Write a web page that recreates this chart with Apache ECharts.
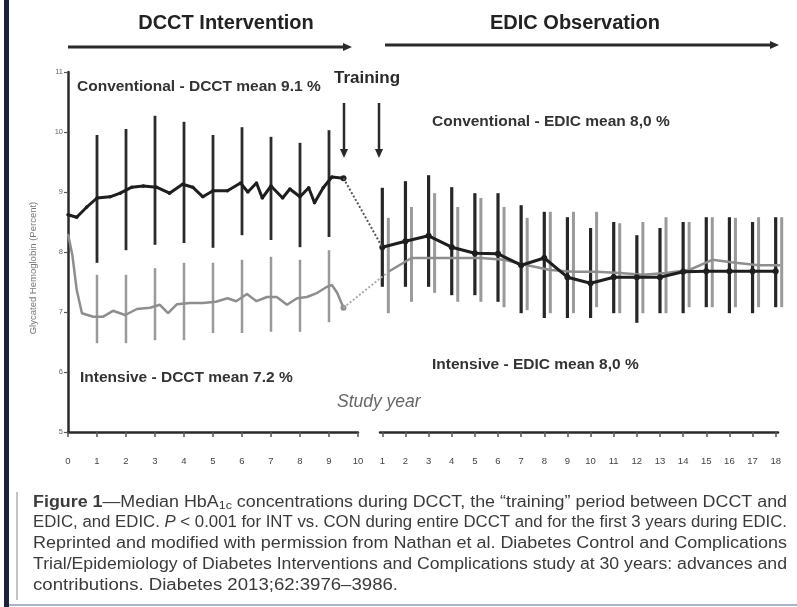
<!DOCTYPE html>
<html>
<head>
<meta charset="utf-8">
<script src="https://cdn.jsdelivr.net/npm/echarts@6/dist/echarts.min.js"></script>
<style>
  html, body { margin: 0; padding: 0; background: #fff; }
  #chart { width: 797px; height: 607px; }
</style>
</head>
<body>
<div id="chart"></div>
<script>
// ---- DCCT phase: median HbA1c (%) by study year ----
const dcctConvYears  = [0, 0.3, 0.65, 1.0, 1.45, 1.8, 2.2, 2.6, 3.05, 3.5, 3.95, 4.3, 4.65, 5.0, 5.5, 5.95, 6.2, 6.5, 6.7, 7.0, 7.4, 7.65, 8.0, 8.3, 8.5, 8.8, 9.1, 9.5];
const dcctConvMedian = [8.62, 8.58, 8.75, 8.9, 8.92, 8.98, 9.08, 9.1, 9.08, 8.98, 9.13, 9.08, 8.92, 9.02, 9.02, 9.15, 9.0, 9.15, 8.9, 9.1, 8.9, 9.05, 8.92, 9.07, 8.82, 9.07, 9.25, 9.23];

const dcctIntYears  = [0, 0.15, 0.3, 0.48, 0.87, 1.2, 1.55, 1.97, 2.38, 2.83, 3.17, 3.45, 3.76, 4.2, 4.65, 5.1, 5.5, 5.8, 6.17, 6.5, 6.86, 7.2, 7.55, 7.9, 8.24, 8.6, 8.93, 9.1, 9.28, 9.5];
const dcctIntMedian = [8.3, 7.95, 7.37, 6.98, 6.92, 6.92, 7.02, 6.95, 7.05, 7.07, 7.12, 6.98, 7.13, 7.15, 7.15, 7.17, 7.23, 7.18, 7.3, 7.18, 7.25, 7.25, 7.12, 7.23, 7.25, 7.32, 7.42, 7.45, 7.32, 7.07];

// yearly spread bars during DCCT
const dcctBarYears = [1, 2, 3, 4, 5, 6, 7, 8, 9];
const dcctConvHigh = [9.95, 10.05, 10.27, 10.17, 9.95, 10.08, 9.92, 9.82, 10.03];
const dcctConvLow  = [7.82, 8.03, 8.12, 8.15, 8.07, 8.28, 8.2, 8.08, 8.25];
const dcctIntHigh  = [7.62, 7.62, 7.73, 7.82, 7.82, 7.87, 7.92, 7.87, 8.03];
const dcctIntLow   = [6.48, 6.48, 6.53, 6.53, 6.65, 6.65, 6.67, 6.67, 6.83];

// ---- EDIC phase: median HbA1c (%) by study year ----
const edicYears      = [1, 2, 3, 4, 5, 6, 7, 8, 9, 10, 11, 12, 13, 14, 15, 16, 17, 18];
const edicConvMedian = [8.08, 8.18, 8.27, 8.08, 7.98, 7.97, 7.78, 7.9, 7.58, 7.48, 7.58, 7.58, 7.58, 7.67, 7.68, 7.68, 7.68, 7.68];
const edicConvHigh   = [9.07, 9.18, 9.28, 9.08, 8.98, 8.98, 8.78, 8.67, 8.58, 8.4, 8.5, 8.28, 8.4, 8.5, 8.58, 8.58, 8.5, 8.58];
const edicConvLow    = [7.42, 7.42, 7.42, 7.28, 7.28, 7.17, 6.98, 6.9, 6.9, 6.9, 6.98, 6.82, 6.98, 6.98, 7.08, 6.98, 6.98, 7.08];
const edicIntMedian  = [7.67, 7.9, 7.9, 7.9, 7.9, 7.87, 7.78, 7.7, 7.67, 7.67, 7.65, 7.62, 7.65, 7.7, 7.87, 7.82, 7.78, 7.78];
const edicIntHigh    = [8.57, 8.75, 8.98, 8.75, 8.9, 8.75, 8.57, 8.67, 8.67, 8.67, 8.48, 8.5, 8.58, 8.5, 8.58, 8.57, 8.58, 8.58];
const edicIntLow     = [6.98, 7.17, 7.32, 7.17, 7.17, 7.08, 7.03, 6.98, 6.98, 7.08, 6.98, 6.98, 6.98, 7.08, 7.08, 7.08, 7.08, 7.08];

// ---- axis ticks ----
const dcctTicks = [0, 1, 2, 3, 4, 5, 6, 7, 8, 9, 10];
const yTicks = [5, 6, 7, 8, 9, 10, 11];

// ---- caption ----
const captionLines = [
  '{b|Figure 1}—Median HbA{sub|1c} concentrations during DCCT, the “training” period between DCCT and',
  'EDIC, and EDIC. {i|P} < 0.001 for INT vs. CON during entire DCCT and for the first 3 years during EDIC.',
  'Reprinted and modified with permission from Nathan et al. Diabetes Control and Complications',
  'Trial/Epidemiology of Diabetes Interventions and Complications study at 30 years: advances and',
  'contributions. Diabetes 2013;62:3976–3986.'
];

const FONT = '"Liberation Sans", Arial, sans-serif';
const DARK = '#1e1e1e';
const GREY = '#8e8e8e';
const INT_SHIFT = 0.26; // intensive group drawn slightly to the right in EDIC

const zip = (xs, ys) => xs.map((x, i) => [x, ys[i]]);
const zip3 = (xs, lo, hi) => xs.map((x, i) => [x, lo[i], hi[i]]);

function rangeBar(color, width) {
  return function (params, api) {
    const x = api.value(0);
    const lo = api.coord([x, api.value(1)]);
    const hi = api.coord([x, api.value(2)]);
    return {
      type: 'line',
      shape: { x1: lo[0], y1: lo[1], x2: hi[0], y2: hi[1] },
      style: { stroke: color, lineWidth: width }
    };
  };
}

const axisLineStyle = { color: '#2a2a2a', width: 2.5 };

const chart = echarts.init(document.getElementById('chart'));

// caption lines are fitted to a justified width
const measureCtx = document.createElement('canvas').getContext('2d');
function lineWidth(line, size) {
  let w = 0;
  const re = /\{(\w+)\|([^}]*)\}|([^{]+)/g;
  let m;
  while ((m = re.exec(line))) {
    if (m[3] !== undefined) {
      measureCtx.font = size + 'px ' + FONT; w += measureCtx.measureText(m[3]).width;
    } else if (m[1] === 'b') {
      measureCtx.font = 'bold ' + size + 'px ' + FONT; w += measureCtx.measureText(m[2]).width;
    } else if (m[1] === 'i') {
      measureCtx.font = 'italic ' + size + 'px ' + FONT; w += measureCtx.measureText(m[2]).width;
    } else {
      measureCtx.font = (size * 0.7) + 'px ' + FONT; w += measureCtx.measureText(m[2]).width;
    }
  }
  return w;
}
const CAP_SIZE = 16;
const capLeft = 33;
const capTargets = [754, 754, 754, 754, 365];
const capTop = [503, 523, 544, 565, 586];
const captionGraphics = captionLines.map((line, i) => ({
  type: 'text',
  x: capLeft,
  y: capTop[i],
  scaleX: capTargets[i] / lineWidth(line, CAP_SIZE),
  style: {
    text: line,
    font: CAP_SIZE + 'px ' + FONT,
    fill: '#3a3a3a',
    verticalAlign: 'middle',
    rich: {
      b: { fontWeight: 'bold', fontSize: CAP_SIZE, fontFamily: FONT, fill: '#3a3a3a' },
      i: { fontStyle: 'italic', fontSize: CAP_SIZE, fontFamily: FONT, fill: '#3a3a3a' },
      sub: { fontSize: CAP_SIZE * 0.7, fontFamily: FONT, fill: '#3a3a3a', padding: [6, 0, 0, 0] }
    }
  }
}));

function arrow(x1, y1, x2, y2, color, width, head) {
  const ang = Math.atan2(y2 - y1, x2 - x1);
  const bx = x2 - head * Math.cos(ang), by = y2 - head * Math.sin(ang);
  const px = -Math.sin(ang) * head * 0.45, py = Math.cos(ang) * head * 0.45;
  return [
    { type: 'line', shape: { x1, y1, x2: bx, y2: by }, style: { stroke: color, lineWidth: width } },
    { type: 'polygon', shape: { points: [[x2, y2], [bx + px, by + py], [bx - px, by - py]] }, style: { fill: color } }
  ];
}

function label(text, x, y, opts) {
  return {
    type: 'text', x, y,
    style: Object.assign({
      text, font: 'bold 15.5px ' + FONT, fill: '#333',
      verticalAlign: 'middle', align: 'left'
    }, opts || {})
  };
}

const option = {
  animation: false,
  backgroundColor: '#fff',
  grid: [
    { left: 68, right: 439, top: 72, bottom: 175 },
    { left: 380, right: 19, top: 72, bottom: 175 }
  ],
  xAxis: [
    {
      gridIndex: 0, type: 'value', min: 0, max: 10, interval: 1,
      axisLine: { lineStyle: axisLineStyle },
      axisTick: { length: 5, lineStyle: { color: '#555', width: 1.5 } },
      axisLabel: { fontSize: 9.5, color: '#444', margin: 24, fontFamily: FONT,
        customValues: dcctTicks },
      splitLine: { show: false }
    },
    {
      gridIndex: 1, type: 'value', min: 0.9, max: 18.1,
      axisLine: { lineStyle: axisLineStyle },
      axisTick: { length: 5, lineStyle: { color: '#555', width: 1.5 }, customValues: edicYears },
      axisLabel: { fontSize: 9.5, color: '#444', margin: 24, fontFamily: FONT, customValues: edicYears },
      splitLine: { show: false }
    },
    {
      gridIndex: 1, type: 'value', min: 0.9 - INT_SHIFT, max: 18.1 - INT_SHIFT, show: false
    }
  ],
  yAxis: [
    {
      gridIndex: 0, type: 'value', min: 5, max: 11, interval: 1,
      axisLine: { show: true, lineStyle: axisLineStyle },
      axisTick: { show: true, length: 4, lineStyle: { color: '#555', width: 1.2 } },
      axisLabel: { fontSize: 7.5, color: '#666', margin: 5, fontFamily: FONT, customValues: yTicks },
      splitLine: { show: false }
    },
    { gridIndex: 1, type: 'value', min: 5, max: 11, show: false }
  ],
  series: [
    {
      name: 'Intensive DCCT range', type: 'custom', xAxisIndex: 0, yAxisIndex: 0,
      renderItem: rangeBar('#9a9a9a', 2.5), encode: { x: 0, y: [1, 2] },
      data: zip3(dcctBarYears, dcctIntLow, dcctIntHigh), z: 2
    },
    {
      name: 'Conventional DCCT range', type: 'custom', xAxisIndex: 0, yAxisIndex: 0,
      renderItem: rangeBar('#2b2b2b', 2.8), encode: { x: 0, y: [1, 2] },
      data: zip3(dcctBarYears, dcctConvLow, dcctConvHigh), z: 2
    },
    {
      name: 'Intensive DCCT', type: 'line', xAxisIndex: 0, yAxisIndex: 0,
      data: zip(dcctIntYears, dcctIntMedian),
      lineStyle: { color: GREY, width: 2.5 }, itemStyle: { color: GREY },
      symbol: 'circle', symbolSize: (v, p) => p.dataIndex === dcctIntYears.length - 1 ? 6 : 0,
      showSymbol: true, z: 3
    },
    {
      name: 'Conventional DCCT', type: 'line', xAxisIndex: 0, yAxisIndex: 0,
      data: zip(dcctConvYears, dcctConvMedian),
      lineStyle: { color: DARK, width: 3 }, itemStyle: { color: DARK },
      symbol: 'circle', symbolSize: (v, p) => p.dataIndex === dcctConvYears.length - 1 ? 6 : 3.5,
      z: 4
    },
    {
      name: 'Intensive EDIC range', type: 'custom', xAxisIndex: 2, yAxisIndex: 1,
      renderItem: rangeBar('#9a9a9a', 3), encode: { x: 0, y: [1, 2] },
      data: zip3(edicYears, edicIntLow, edicIntHigh), z: 2
    },
    {
      name: 'Conventional EDIC range', type: 'custom', xAxisIndex: 1, yAxisIndex: 1,
      renderItem: rangeBar('#262626', 3.2), encode: { x: 0, y: [1, 2] },
      data: zip3(edicYears, edicConvLow, edicConvHigh), z: 2
    },
    {
      name: 'Intensive EDIC', type: 'line', xAxisIndex: 2, yAxisIndex: 1,
      data: zip(edicYears, edicIntMedian),
      lineStyle: { color: GREY, width: 2.5 }, itemStyle: { color: GREY },
      symbol: 'none', z: 3
    },
    {
      name: 'Conventional EDIC', type: 'line', xAxisIndex: 1, yAxisIndex: 1,
      data: zip(edicYears, edicConvMedian),
      lineStyle: { color: DARK, width: 3 }, itemStyle: { color: DARK },
      symbol: 'circle', symbolSize: 6, z: 4
    }
  ],
  graphic: [
    // page edge and caption rule
    { type: 'rect', shape: { x: 4, y: 0, width: 5, height: 607 }, style: { fill: '#1b2238' } },
    { type: 'line', shape: { x1: 17, y1: 492, x2: 17, y2: 600 }, style: { stroke: '#b0b0b0', lineWidth: 1.5 } },
    { type: 'line', shape: { x1: 9, y1: 605, x2: 797, y2: 605 }, style: { stroke: '#a9b4c8', lineWidth: 2 } },

    // phase headers
    label('DCCT Intervention', 226, 23, { font: 'bold 20px ' + FONT, align: 'center', fill: '#222' }),
    label('EDIC Observation', 575, 23, { font: 'bold 20px ' + FONT, align: 'center', fill: '#222' }),
    ...arrow(68, 47, 352, 47, '#2a2a2a', 3, 9),
    ...arrow(385, 45, 779, 45, '#2a2a2a', 3, 9),

    // training period
    label('Training', 367, 78, { font: 'bold 17px ' + FONT, align: 'center', fill: '#2a2a2a' }),
    ...arrow(344, 103, 344, 158, '#2a2a2a', 2.5, 9),
    ...arrow(379, 103, 379, 158, '#2a2a2a', 2.5, 9),

    // group annotations
    label('Conventional - DCCT mean 9.1 %', 77, 87),
    label('Conventional - EDIC mean 8,0 %', 432, 122),
    label('Intensive - DCCT mean 7.2 %', 80, 378),
    label('Intensive - EDIC mean 8,0 %', 432, 365),
    label('Study year', 337, 402, { font: 'italic 17.5px ' + FONT, fill: '#666' }),

    // y axis title
    {
      type: 'text', x: 33, y: 268, rotation: Math.PI / 2,
      style: { text: 'Glycated Hemoglobin (Percent)', font: '9.5px ' + FONT, fill: '#777',
        align: 'center', verticalAlign: 'middle' }
    },
    ...captionGraphics
  ]
};

chart.setOption(option);

// dotted connectors across the training gap, from the last DCCT median to the first EDIC median
const lastC = dcctConvYears.length - 1, lastI = dcctIntYears.length - 1;
const cStart = chart.convertToPixel({ xAxisIndex: 0, yAxisIndex: 0 }, [dcctConvYears[lastC], dcctConvMedian[lastC]]);
const cEnd = chart.convertToPixel({ xAxisIndex: 1, yAxisIndex: 1 }, [edicYears[0], edicConvMedian[0]]);
const iStart = chart.convertToPixel({ xAxisIndex: 0, yAxisIndex: 0 }, [dcctIntYears[lastI], dcctIntMedian[lastI]]);
const iEnd = chart.convertToPixel({ xAxisIndex: 2, yAxisIndex: 1 }, [edicYears[0], edicIntMedian[0]]);

chart.setOption({
  graphic: option.graphic.concat([
    { type: 'line', shape: { x1: cStart[0], y1: cStart[1], x2: cEnd[0], y2: cEnd[1] },
      style: { stroke: '#555', lineWidth: 2, lineDash: [2, 2] }, z: 10 },
    { type: 'line', shape: { x1: iStart[0], y1: iStart[1], x2: iEnd[0], y2: iEnd[1] },
      style: { stroke: '#aaa', lineWidth: 2, lineDash: [2, 2] }, z: 10 }
  ])
}, { replaceMerge: ['graphic'] });
</script>
</body>
</html>
